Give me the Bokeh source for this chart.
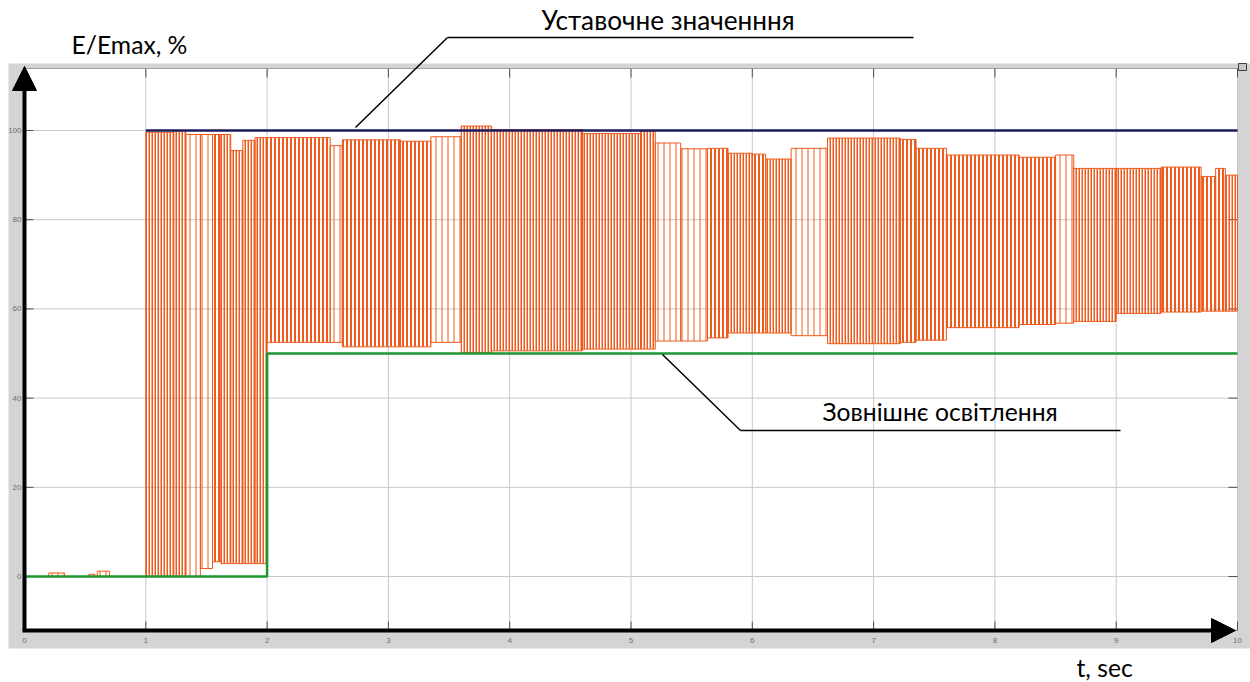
from bokeh.plotting import figure
from bokeh.models import ColumnDataSource, Arrow, NormalHead, Label, Range1d
from bokeh.core.properties import value
from bokeh.embed import file_html
from bokeh.resources import INLINE

# ---------------- data ----------------
x_ticks = [0, 1, 2, 3, 4, 5, 6, 7, 8, 9, 10]
y_ticks = [0, 20, 40, 60, 80, 100]
x_labels = [str(v) for v in x_ticks]
y_labels = [str(v) for v in y_ticks]

setpoint_t = [1.0, 10.0]
setpoint_v = [100.0, 100.0]

light_t = [0.0, 2.0, 10.0]
light_v = [0.0, 50.0, 50.0]

# switching (PWM) signal: segments with upper / lower levels
seg_start = [0.20, 0.53, 0.60, 1.00, 1.23, 1.33, 1.45, 1.55, 1.62, 1.70, 1.80, 1.90,
             2.00, 2.52, 2.62, 3.10, 3.35, 3.60, 3.85, 4.60, 5.08, 5.20, 5.41, 5.63,
             5.80, 6.00, 6.11, 6.32, 6.62, 7.22, 7.35, 7.60, 8.20, 8.50, 8.65, 9.00,
             9.37, 9.70, 9.82, 9.90]
seg_end = [0.33, 0.58, 0.70, 1.23, 1.33, 1.45, 1.55, 1.62, 1.70, 1.80, 1.90, 2.00,
           2.52, 2.62, 3.10, 3.35, 3.60, 3.85, 4.60, 5.08, 5.20, 5.41, 5.63, 5.80,
           6.00, 6.11, 6.32, 6.62, 7.22, 7.35, 7.60, 8.20, 8.50, 8.65, 9.00, 9.37,
           9.70, 9.82, 9.90, 10.00]
seg_upper = [0.8, 0.5, 1.2, 99.6, 100.0, 99.1, 99.1, 99.1, 99.1, 95.5, 97.8, 98.4,
             98.4, 96.6, 97.9, 97.6, 98.6, 101.0, 100.2, 99.3, 99.9, 97.2, 95.9, 96.0,
             94.9, 94.7, 93.6, 96.0, 98.3, 98.0, 96.0, 94.5, 94.0, 94.5, 91.5, 91.5,
             91.8, 89.7, 91.5, 90.0]
seg_lower = [0.0, 0.0, 0.0, 0.0, 0.0, 0.0, 1.8, 3.3, 2.9, 2.9, 2.9, 2.9,
             52.5, 52.5, 51.5, 51.5, 52.5, 50.2, 50.6, 51.0, 51.0, 52.8, 52.8, 53.5,
             54.6, 54.6, 54.6, 54.0, 52.2, 52.5, 53.0, 55.8, 56.5, 56.8, 57.2, 59.0,
             59.3, 59.5, 59.5, 59.5]
seg_switching = ["sparse", "sparse", "sparse", "dense", "dense", "sparse", "sparse", "medium",
                 "dense", "dense", "dense", "dense", "medium", "sparse", "medium", "medium",
                 "sparse", "dense", "dense", "dense", "dense", "sparse", "sparse", "medium",
                 "dense", "medium", "dense", "sparse", "dense", "medium", "medium", "medium",
                 "medium", "sparse", "dense", "dense", "medium", "medium", "medium", "dense"]

# ---------------- styles / geometry ----------------
ORANGE = "#ee5b1c"
GREEN = "#1e9632"
NAVY = "#1b1b5e"
GRAY = "#d4d4d4"
GRID = "#c8c8c8"
FONT = "Lato"
hatch_spacing = {"dense": 3, "medium": 4, "sparse": 6}
hatch_width = {"dense": 2, "medium": 2, "sparse": 1}

W, H = 1250, 682
T_MIN, T_MAX = 0.0, 10.0          # plot-area data limits
V_MIN, V_MAX = -12.1, 113.9
PA_LEFT, PA_RIGHT, PA_TOP, PA_BOTTOM = 24, 1237, 68, 630   # plot-area pixels
KX = (PA_RIGHT - PA_LEFT) / (T_MAX - T_MIN)
KY = (PA_BOTTOM - PA_TOP) / (V_MAX - V_MIN)
X0 = PA_LEFT - T_MIN * KX
Y0 = PA_TOP + V_MAX * KY


def t_at(px):
    return (px - X0) / KX


def v_at(py):
    return (Y0 - py) / KY


p = figure(width=W, height=H, output_backend="svg", toolbar_location=None,
           x_range=Range1d(t_at(0), t_at(W)), y_range=Range1d(v_at(H), v_at(0)),
           min_border=0, x_axis_location=None, y_axis_location=None)
p.border_fill_color = "white"
p.background_fill_color = "white"
p.outline_line_color = None
p.grid.visible = False

# scope frame (gray) and white plot area
p.quad(left=t_at(8), right=t_at(W), top=v_at(63), bottom=v_at(648),
       fill_color=GRAY, line_color=None)
p.quad(left=T_MIN, right=T_MAX, top=V_MAX, bottom=V_MIN,
       fill_color="white", line_color="#a0a0a0", line_width=1)
# small corner button of the scope
p.quad(left=t_at(1238), right=t_at(1246), top=v_at(63), bottom=v_at(70),
       fill_color="#c8c8c8", line_color="#404040", line_width=1)

# grid
p.segment(x0=x_ticks, x1=x_ticks, y0=[V_MIN] * len(x_ticks), y1=[V_MAX] * len(x_ticks),
          line_color=GRID, line_width=1)
p.segment(x0=[T_MIN] * len(y_ticks), x1=[T_MAX] * len(y_ticks), y0=y_ticks, y1=y_ticks,
          line_color=GRID, line_width=1)

# inward tick marks on all four sides
TL_X, TL_Y = 9 / KX, 9 / KY
TICK = "#505050"
p.segment(x0=x_ticks, x1=x_ticks, y0=[V_MIN] * len(x_ticks), y1=[V_MIN + TL_Y] * len(x_ticks),
          line_color=TICK, line_width=1)
p.segment(x0=x_ticks, x1=x_ticks, y0=[V_MAX] * len(x_ticks), y1=[V_MAX - TL_Y] * len(x_ticks),
          line_color=TICK, line_width=1)
p.segment(x0=[T_MIN] * len(y_ticks), x1=[T_MIN + TL_X] * len(y_ticks), y0=y_ticks, y1=y_ticks,
          line_color=TICK, line_width=1)
p.segment(x0=[T_MAX] * len(y_ticks), x1=[T_MAX - TL_X] * len(y_ticks), y0=y_ticks, y1=y_ticks,
          line_color=TICK, line_width=1)

# tick labels
p.text(x=x_ticks, y=[v_at(640)] * len(x_ticks), text=x_labels,
       text_font=value("Liberation Sans"), text_font_size="8px", text_color="#707070",
       text_align="center", text_baseline="middle")
p.text(x=[t_at(21)] * len(y_ticks), y=y_ticks, text=y_labels,
       text_font=value("Liberation Sans"), text_font_size="8px", text_color="#707070",
       text_align="right", text_baseline="middle")

# switching signal
src = ColumnDataSource(dict(left=seg_start, right=seg_end, top=seg_upper, bottom=seg_lower,
                            spacing=[hatch_spacing[s] for s in seg_switching],
                            weight=[hatch_width[s] for s in seg_switching]))
p.quad(left="left", right="right", top="top", bottom="bottom", source=src,
       fill_color=None, line_color=ORANGE, line_width=1,
       hatch_pattern="vertical_line", hatch_color=ORANGE, hatch_scale="spacing",
       hatch_weight="weight")

# external light (green) and setpoint (navy)
p.step(light_t, light_v, mode="after", line_color=GREEN, line_width=2.5)
p.line(setpoint_t, setpoint_v, line_color=NAVY, line_width=2.5)

# black axis arrows
p.add_layout(Arrow(x_start=T_MIN, y_start=V_MIN, x_end=T_MIN, y_end=v_at(66), line_width=4,
                   line_color="black",
                   end=NormalHead(size=24, fill_color="black", line_color="black")))
p.add_layout(Arrow(x_start=t_at(22), y_start=V_MIN, x_end=t_at(1235), y_end=V_MIN,
                   line_width=4, line_color="black",
                   end=NormalHead(size=24, fill_color="black", line_color="black")))

# leader lines (pixel anchors of the annotation callouts)
leaders = [((355, 127), (447, 37)), ((447, 37), (913, 37)),
           ((662, 354), (740, 430)), ((740, 430), (1120, 430))]
for (ax0, ay0), (ax1, ay1) in leaders:
    p.add_layout(Arrow(x_start=t_at(ax0), y_start=v_at(ay0), x_end=t_at(ax1), y_end=v_at(ay1),
                       end=None, line_color="black", line_width=1.5))

# texts
texts = [("E/Emax, %", 71, 44, "24.7px"), ("Уставочне значенння", 541, 19, "26.2px"),
         ("Зовнішнє освітлення", 822, 411, "24.7px"), ("t, sec", 1076, 667, "24.7px")]
for txt, tx, ty, fs in texts:
    p.add_layout(Label(x=t_at(tx), y=v_at(ty), text=txt, text_font=FONT,
                       text_font_size=fs, text_baseline="middle", text_align="left",
                       text_color="black"))

open("out.html", "w").write(file_html(p, INLINE))
